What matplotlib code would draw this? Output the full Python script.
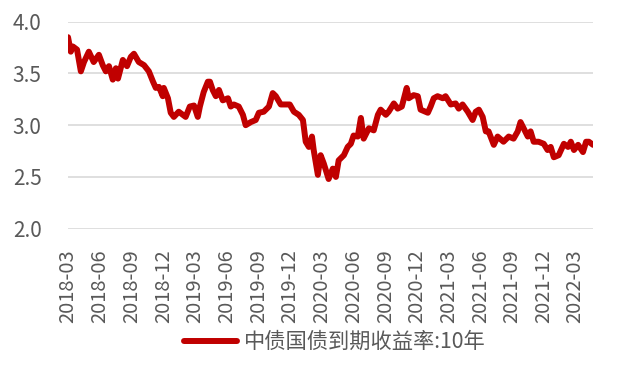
import pandas as pd
import matplotlib
matplotlib.use("Agg")
import matplotlib.pyplot as plt
import matplotlib.dates as mdates

plt.rcParams['font.family'] = ['Noto Sans CJK SC', 'DejaVu Sans']

# 中债国债到期收益率:10年
dates = [
    "2018-03-01", "2018-03-09", "2018-03-15", "2018-03-27", "2018-04-07", "2018-04-16",
    "2018-04-30", "2018-05-14", "2018-05-29", "2018-06-09", "2018-06-18", "2018-06-27",
    "2018-07-08", "2018-07-17", "2018-07-23", "2018-08-06", "2018-08-18", "2018-08-29",
    "2018-09-07", "2018-09-21", "2018-10-06", "2018-10-20", "2018-11-01", "2018-11-09",
    "2018-11-18", "2018-11-29", "2018-12-02", "2018-12-14", "2018-12-22", "2018-12-31",
    "2019-01-14", "2019-02-03", "2019-02-15", "2019-02-27", "2019-03-10", "2019-03-16",
    "2019-03-27", "2019-04-08", "2019-04-14", "2019-04-22", "2019-05-01", "2019-05-10",
    "2019-05-21", "2019-06-05", "2019-06-13", "2019-06-22", "2019-07-06", "2019-07-18",
    "2019-07-26", "2019-08-10", "2019-08-24", "2019-09-02", "2019-09-16", "2019-10-01",
    "2019-10-12", "2019-10-21", "2019-11-04", "2019-11-19", "2019-11-30", "2019-12-12",
    "2019-12-26", "2020-01-07", "2020-01-15", "2020-01-24", "2020-02-02", "2020-02-07",
    "2020-02-19", "2020-02-27", "2020-03-07", "2020-03-21", "2020-04-02", "2020-04-11",
    "2020-04-19", "2020-05-04", "2020-05-15", "2020-05-24", "2020-06-01", "2020-06-13",
    "2020-06-22", "2020-06-30", "2020-07-15", "2020-07-29", "2020-08-10", "2020-08-18",
    "2020-09-02", "2020-09-10", "2020-09-25", "2020-10-06", "2020-10-18", "2020-11-01",
    "2020-11-07", "2020-11-21", "2020-12-03", "2020-12-11", "2021-01-01", "2021-01-09",
    "2021-01-18", "2021-01-29", "2021-02-13", "2021-02-21", "2021-03-08", "2021-03-22",
    "2021-03-31", "2021-04-11", "2021-04-26", "2021-05-10", "2021-05-19", "2021-05-28",
    "2021-06-08", "2021-06-17", "2021-06-25", "2021-07-10", "2021-07-21", "2021-08-07",
    "2021-08-22", "2021-09-05", "2021-09-17", "2021-09-25", "2021-10-04", "2021-10-16",
    "2021-10-24", "2021-11-02", "2021-11-16", "2021-12-01", "2021-12-12", "2021-12-21",
    "2021-12-30", "2022-01-13", "2022-01-28", "2022-02-09", "2022-02-17", "2022-02-26",
    "2022-03-10", "2022-03-24", "2022-04-02", "2022-04-10", "2022-04-22",
]
yields = [
    3.85, 3.71, 3.76, 3.73, 3.52, 3.61,
    3.71, 3.61, 3.68, 3.58, 3.52, 3.57,
    3.44, 3.55, 3.45, 3.63, 3.57, 3.66,
    3.69, 3.61, 3.58, 3.52, 3.42, 3.36,
    3.37, 3.28, 3.36, 3.26, 3.12, 3.08,
    3.13, 3.08, 3.18, 3.19, 3.08, 3.18,
    3.32, 3.42, 3.42, 3.34, 3.28, 3.34,
    3.24, 3.26, 3.18, 3.20, 3.18, 3.10,
    3.00, 3.03, 3.05, 3.12, 3.13, 3.18,
    3.31, 3.28, 3.20, 3.20, 3.20, 3.13,
    3.10, 3.05, 2.84, 2.79, 2.89, 2.76,
    2.52, 2.71, 2.63, 2.48, 2.58, 2.50,
    2.66, 2.71, 2.79, 2.82, 2.90, 2.89,
    3.07, 2.87, 2.97, 2.95, 3.10, 3.15,
    3.10, 3.13, 3.21, 3.16, 3.18, 3.36,
    3.26, 3.29, 3.28, 3.15, 3.12, 3.18,
    3.26, 3.28, 3.26, 3.28, 3.20, 3.21,
    3.16, 3.20, 3.13, 3.05, 3.13, 3.15,
    3.08, 2.94, 2.94, 2.81, 2.89, 2.84,
    2.89, 2.87, 2.94, 3.03, 2.97, 2.89,
    2.94, 2.84, 2.84, 2.82, 2.76, 2.79,
    2.69, 2.71, 2.82, 2.79, 2.84, 2.76,
    2.81, 2.74, 2.84, 2.84, 2.81,
]
yticks = [2.0, 2.5, 3.0, 3.5, 4.0]
label = "中债国债到期收益率:10年"

x = pd.to_datetime(dates)
grey = "#595959"

fig = plt.figure(figsize=(6.2, 3.71), dpi=100)
ax = fig.add_axes([0.1097, 0.3836, 0.8468, 0.558])

ax.plot(x, yields, color="#C00000", lw=4.3, solid_joinstyle="round",
        solid_capstyle="round", label=label, zorder=3)

ax.set_ylim(2.0, 4.0)
ax.set_yticks(yticks)
ax.set_yticklabels([f"{v:.1f}" for v in yticks])
ax.set_xlim(x[0], x[-1])
ax.xaxis.set_major_locator(mdates.MonthLocator(bymonth=[3, 6, 9, 12]))
ax.xaxis.set_major_formatter(mdates.DateFormatter("%Y-%m"))

ax.grid(axis="y", color="#D9D9D9", lw=1.2)
ax.grid(axis="x", visible=False)
for s in ax.spines.values():
    s.set_visible(False)
ax.tick_params(axis="both", length=0, colors=grey)
ax.tick_params(axis="y", pad=19, labelsize=15)
ax.tick_params(axis="x", pad=15, labelsize=14.5)
for t in ax.get_xticklabels():
    t.set_rotation(90)

fig.legend(loc="center", bbox_to_anchor=(0.540, 0.078), frameon=False,
           fontsize=15.3, labelcolor=grey, handlelength=2.5, handletextpad=0.3)

fig.savefig("out.png", dpi=100)
